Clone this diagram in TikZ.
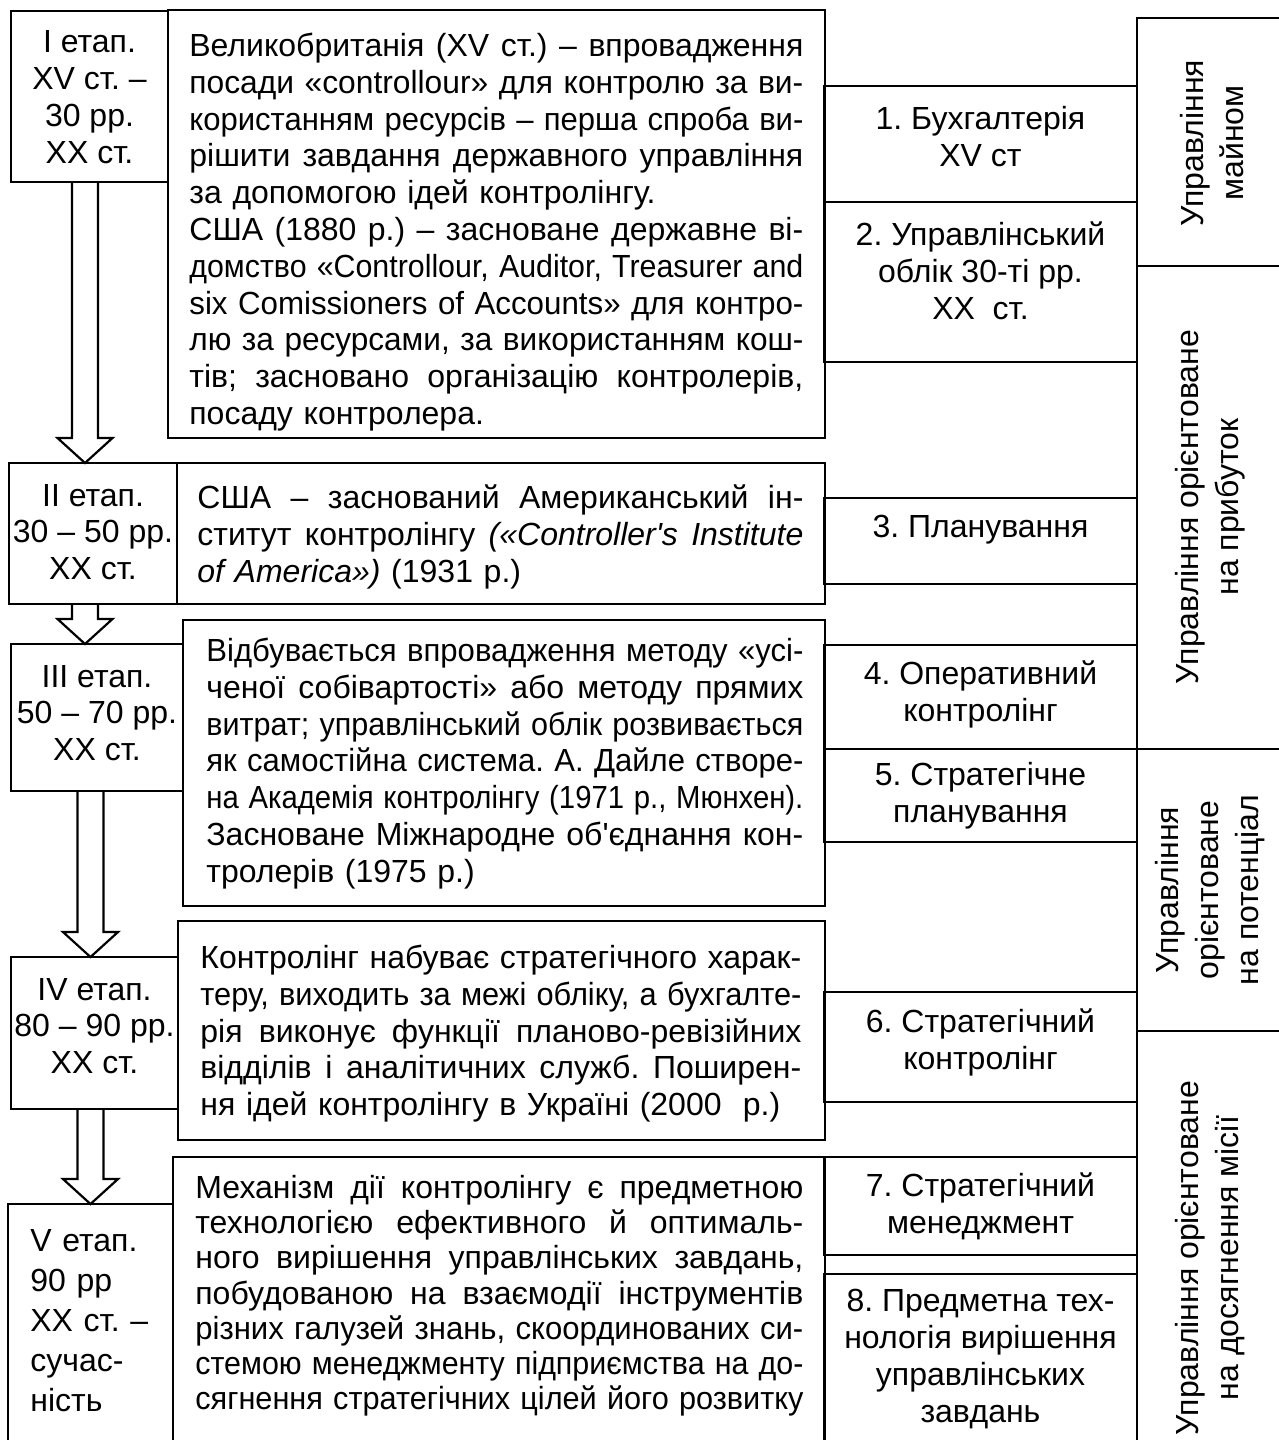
\documentclass[tikz,border=0pt]{standalone}
\usepackage{fontspec}
\usepackage{graphicx}
\setmainfont{Liberation Sans}
\usetikzlibrary{fit,calc}
\newlength\jlw
\newcommand\jl[1]{\settowidth\jlw{#1}\ifdim\jlw>\hsize\resizebox{\hsize}{\height}{#1}\else\hbox to\hsize{\spaceskip=0.278em plus 3em minus 0.05em\xspaceskip=\spaceskip\relax#1}\fi\par}
\newcommand\plainsp{\spaceskip=0pt\xspaceskip=0pt\frenchspacing\parindent=0pt\relax}
\newcommand\blockarrow[2]{%
  \draw[barrow] ($(#1)+(-13,0)$) -- ($(#2)+(-13,-25)$) -- ($(#2)+(-27.5,-25)$) -- (#2)
    -- ($(#2)+(27.5,-25)$) -- ($(#2)+(13,-25)$) -- ($(#1)+(13,0)$);}
\tikzset{
  bx/.style={draw, line width=1.1pt, inner sep=0pt, fit={#1}},
  barrow/.style={draw, line width=1.1pt, line join=miter},
  body/.style={font=\fontsize{16pt}{18.4pt}\selectfont\plainsp, inner sep=0pt, anchor=base west},
  stg/.style={font=\fontsize{16pt}{18.4pt}\selectfont\frenchspacing, inner sep=0pt, align=center},
  mid/.style={font=\fontsize{16pt}{18.5pt}\selectfont\frenchspacing, inner sep=0pt, align=center},
  grp/.style={font=\fontsize{16pt}{20pt}\selectfont\frenchspacing, inner sep=0pt, align=center, rotate=90},
}
\begin{document}
\frenchspacing
\begin{tikzpicture}[x=0.5pt,y=-0.5pt]
\useasboundingbox (0,0) rectangle (1279,1440);
\begin{scope}
\clip (0,0) rectangle (1279,1440);
% stage boxes
\node[bx={(11,11) (168,182)}] (s1) {};
\node[bx={(9,463) (177,604)}] (s2) {};
\node[bx={(11,644) (183,791)}] (s3) {};
\node[bx={(11,957) (178,1109)}] (s4) {};
\node[bx={(8,1204) (173,1500)}] (s5) {};
% text boxes
\node[bx={(168,10) (825,438)}] (t1) {};
\node[bx={(177,463) (825,604)}] (t2) {};
\node[bx={(183,620) (825,906)}] (t3) {};
\node[bx={(178,921) (825,1140)}] (t4) {};
\node[bx={(173,1157) (825,1500)}] (t5) {};
% middle boxes
\node[bx={(824,86) (1137,202)}] (m1) {};
\node[bx={(824,202) (1137,362)}] (m2) {};
\node[bx={(824,498) (1137,584)}] (m3) {};
\node[bx={(824,645) (1137,749)}] (m4) {};
\node[bx={(824,749) (1137,842)}] (m5) {};
\node[bx={(824,992) (1137,1102)}] (m6) {};
\node[bx={(824,1157) (1137,1255)}] (m7) {};
\node[bx={(824,1274) (1137,1500)}] (m8) {};
% group boxes
\node[bx={(1137,18) (1283,266)}] (g1) {};
\node[bx={(1137,266) (1283,749)}] (g2) {};
\node[bx={(1137,749) (1283,1031)}] (g3) {};
\node[bx={(1137,1031) (1283,1500)}] (g4) {};
% arrows
\coordinate (a1s) at (85,182);   \coordinate (a1e) at (85,463);
\coordinate (a2s) at (85,604);   \coordinate (a2e) at (85,644);
\coordinate (a3s) at (90.5,791); \coordinate (a3e) at (90.5,957);
\coordinate (a4s) at (90.5,1109);\coordinate (a4e) at (90.5,1204);
\blockarrow{a1s}{a1e}
\blockarrow{a2s}{a2e}
\blockarrow{a3s}{a3e}
\blockarrow{a4s}{a4e}
% stage texts
\node[stg] (s1t) at (89.5,97) {I етап.\\XV ст. –\\30 рр.\\XX ст.};
\node[stg] (s2t) at (93,532) {II етап.\\30 – 50 рр.\\XX ст.};
\node[stg] (s3t) at (97,713) {III етап.\\50 – 70 рр.\\XX ст.};
\node[stg] (s4t) at (94.5,1026) {IV етап.\\80 – 90 рр.\\XX ст.};
\node[body, font=\fontsize{16pt}{20pt}\selectfont\plainsp, text width=70pt] (s5t) at (30,1251.5) {V етап.\\90 рр\\XX ст. –\\сучас-\\ність};
% body texts
\node[body, text width=307pt] (t1t) at (189,56.5) {%
\jl{Великобританія (XV ст.) – впровадження}
\jl{посади «controllour» для контролю за ви-}
\jl{користанням ресурсів – перша спроба ви-}
\jl{рішити завдання державного управління}
за допомогою ідей контролінгу.\par
\jl{США (1880 р.) – засноване державне ві-}
\jl{домство «Controllour, Auditor, Treasurer and}
\jl{six Comissioners of Accounts» для контро-}
\jl{лю за ресурсами, за використанням кош-}
\jl{тів; засновано організацію контролерів,}
посаду контролера.};
\node[body, text width=303pt] (t2t) at (197,508.5) {%
\jl{США – заснований Американський ін-}
\jl{ститут контролінгу \textit{(«Controller\textquotesingle s Institute}}
\textit{of America»)} (1931 р.)};
\node[body, text width=298.5pt] (t3t) at (206,661.5) {%
\jl{Відбувається впровадження методу «усі-}
\jl{ченої собівартості» або методу прямих}
\jl{витрат; управлінський облік розвивається}
\jl{як самостійна система. А. Дайле створе-}
\jl{на Академія контролінгу (1971 р., Мюнхен).}
\jl{Засноване Міжнародне об\textquotesingle єднання кон-}
тролерів (1975 р.)};
\node[body, text width=300.5pt] (t4t) at (200,968.5) {%
\jl{Контролінг набуває стратегічного харак-}
\jl{теру, виходить за межі обліку, а бухгалте-}
\jl{рія виконує функції планово-ревізійних}
\jl{відділів і аналітичних служб. Поширен-}
ня ідей контролінгу в Україні (2000\ \ р.)};
\node[body, font=\fontsize{16pt}{17.6pt}\selectfont\plainsp, text width=304pt] (t5t) at (195,1198.5) {%
\jl{Механізм дії контролінгу є предметною}
\jl{технологією ефективного й оптималь-}
\jl{ного вирішення управлінських завдань,}
\jl{побудованою на взаємодії інструментів}
\jl{різних галузей знань, скоординованих си-}
\jl{стемою менеджменту підприємства на до-}
\jl{сягнення стратегічних цілей його розвитку}};
% middle texts
\node[mid] (m1t) at (980.5,136.5) {1. Бухгалтерія\\XV ст};
\node[mid] (m2t) at (980.5,271) {2. Управлінський\\облік 30-ті рр.\\XX\ \ ст.};
\node[mid] (m3t) at (980.5,530) {3. Планування};
\node[mid] (m4t) at (980.5,694) {4. Оперативний\\контролінг};
\node[mid] (m5t) at (980.5,796) {5. Стратегічне\\планування};
\node[mid] (m6t) at (980.5,1042) {6. Стратегічний\\контролінг};
\node[mid] (m7t) at (980.5,1206) {7. Стратегічний\\менеджмент};
\node[mid] (m8t) at (980.5,1359) {8. Предметна тех-\\нологія вирішення\\управлінських\\завдань};
% group texts
\node[grp] (g1t) at (1212,143) {Управління\\майном};
\node[grp] (g2t) at (1210,507) {Управління орієнтоване\\на прибуток};
\node[grp] (g3t) at (1210,890) {Управління\\орієнтоване\\на потенціал};
\node[grp] (g4t) at (1210,1258) {Управління орієнтоване\\на досягнення місії};
\end{scope}
\end{tikzpicture}
\end{document}
